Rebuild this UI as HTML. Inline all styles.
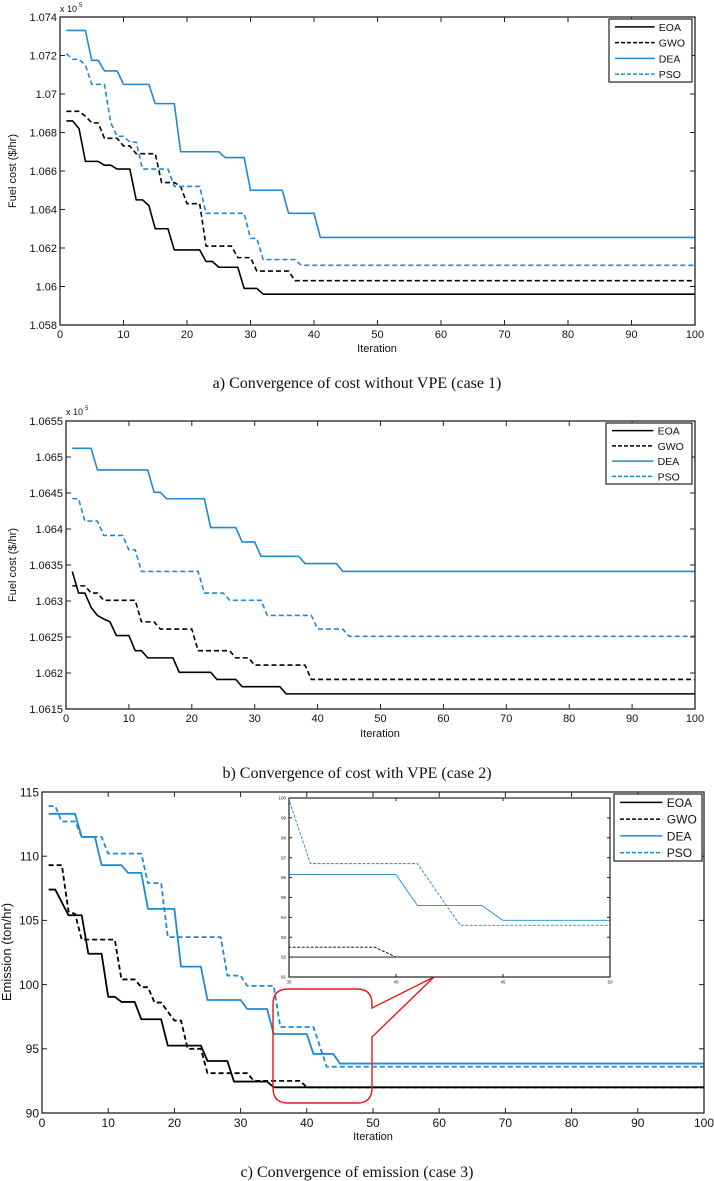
<!DOCTYPE html>
<html><head><meta charset="utf-8">
<style>
html,body{margin:0;padding:0;background:#fff;}
body{width:714px;height:1181px;overflow:hidden;position:relative;font-family:"Liberation Sans",Arial,sans-serif;}
svg{position:absolute;left:0;top:0;}
.cap{font-family:"Liberation Serif","Times New Roman",serif;font-size:16px;}
</style></head>
<body>
<svg id="fig" width="714" height="1181" viewBox="0 0 714 1181"></svg>
<script>
// ---------- Chart a data (x 1e5 $/hr) ----------
const aEOAIter=[1,3,4,7,9,12,14,15,18,23,25,29,32];
const aEOAVal=[1.0686,1.0682,1.0665,1.0663,1.0661,1.0645,1.0642,1.0630,1.0619,1.0613,1.0610,1.0599,1.0596];
const aGWOIter=[1,4,5,7,10,12,16,19,20,23,28,31,37];
const aGWOVal=[1.0691,1.06885,1.0685,1.0677,1.0673,1.0669,1.0654,1.0652,1.0643,1.0621,1.0615,1.0608,1.0603];
const aDEAIter=[1,5,7,10,15,19,26,30,36,41];
const aDEAVal=[1.0733,1.07175,1.0712,1.0705,1.0695,1.0670,1.0667,1.0650,1.0638,1.06255];
const aPSOIter=[1,2,4,5,8,9,11,13,18,23,30,32,38];
const aPSOVal=[1.0721,1.0718,1.0715,1.0705,1.0685,1.0678,1.0675,1.0661,1.0652,1.0638,1.0625,1.0614,1.0611];
const aYTicks=[1.058,1.06,1.062,1.064,1.066,1.068,1.07,1.072,1.074];
const aYLabels=["1.058","1.06","1.062","1.064","1.066","1.068","1.07","1.072","1.074"];
// ---------- Chart b data ----------
const bEOAIter=[1,2,4,5,6,7,8,11,13,18,24,28,35];
const bEOAVal=[1.06341,1.06311,1.06291,1.0628,1.06275,1.06271,1.06252,1.06231,1.06221,1.06201,1.06191,1.06181,1.06171];
const bGWOIter=[1,4,6,12,15,21,27,30,39];
const bGWOVal=[1.06321,1.06311,1.06301,1.06271,1.06261,1.06231,1.06221,1.06211,1.06191];
const bDEAIter=[1,5,14,16,23,28,31,38,44];
const bDEAVal=[1.06512,1.06482,1.06451,1.06442,1.06402,1.06382,1.06362,1.06352,1.06341];
const bPSOIter=[1,3,6,10,12,22,26,32,40,45];
const bPSOVal=[1.06442,1.06411,1.06391,1.06371,1.06341,1.06311,1.06301,1.0628,1.06261,1.06251];
const bYTicks=[1.0615,1.062,1.0625,1.063,1.0635,1.064,1.0645,1.065,1.0655];
const bYLabels=["1.0615","1.062","1.0625","1.063","1.0635","1.064","1.0645","1.065","1.0655"];
// ---------- Chart c data (ton/hr) ----------
const cEOAIter=[1,3,4,7,10,12,15,19,25,29,35];
const cEOAVal=[107.4,106.4,105.4,102.4,99.05,98.65,97.3,95.25,94.05,92.45,92.0];
const cGWOIter=[1,4,5,6,12,15,17,19,20,22,25,32,40];
const cGWOVal=[109.3,105.7,105.5,103.5,100.4,99.8,98.6,97.9,97.2,95.0,93.1,92.5,92.0];
const cDEAIter=[1,6,9,13,16,21,25,31,35,41,45];
const cDEAVal=[113.3,111.5,109.3,108.7,105.9,101.4,98.8,98.1,96.15,94.6,93.85];
const cPSOIter=[1,3,6,10,16,19,28,31,36,42,43];
const cPSOVal=[113.9,112.7,111.5,110.2,107.9,103.7,100.7,99.9,96.7,95.15,93.6];
const cYTicks=[90,95,100,105,110,115];
const cYLabels=["90","95","100","105","110","115"];
const insetYTicks=[91,92,93,94,95,96,97,98,99,100];
const insetXTicks=[35,40,45,50];
const xTicks=[0,10,20,30,40,50,60,70,80,90,100];
const seriesNames=["EOA","GWO","DEA","PSO"];

const NS="http://www.w3.org/2000/svg";
const svg=document.getElementById('fig');
const BLUE="#1f8ad4";
function mk(tag,attrs,parent){const e=document.createElementNS(NS,tag);for(const k in attrs)e.setAttribute(k,attrs[k]);(parent||svg).appendChild(e);return e;}
function expand(iters,vals){const pts=[];for(let i=1;i<=100;i++){let v=vals[0];for(let k=0;k<iters.length;k++){if(iters[k]<=i)v=vals[k];}pts.push([i,v]);}return pts;}
const styles=[{c:"#000",d:null},{c:"#000",d:"5,3"},{c:BLUE,d:null},{c:BLUE,d:"5,3"}];

function drawChart(id,box,xmin,xmax,ymin,ymax,yTicks,yLabels,series,opt){
  const g=mk('g',{});
  
  
  const sx=v=>box.l+(v-xmin)/(xmax-xmin)*(box.r-box.l);
  const sy=v=>box.b-(v-ymin)/(ymax-ymin)*(box.b-box.t);
  const clipId=id+'-clip';
  const cp=mk('clipPath',{id:clipId},g);mk('rect',{x:box.l,y:box.t,width:box.r-box.l,height:box.b-box.t},cp);
  if(opt.bg){const bg=mk('rect',{x:box.l,y:box.t,width:box.r-box.l,height:box.b-box.t,fill:'#fff'},g);}
  const sg=mk('g',{'clip-path':'url(#'+clipId+')'},g);
  series.forEach((s,i)=>{
    const pts=expand(s[0],s[1]).map(p=>sx(p[0]).toFixed(2)+','+sy(p[1]).toFixed(2)).join(' ');
    const pl=mk('polyline',{points:pts,fill:'none',stroke:styles[i].c,'stroke-width':opt.lw,'stroke-linejoin':'round'},sg);
    if(styles[i].d)pl.setAttribute('stroke-dasharray',opt.dash||styles[i].d);
    
    
  });
  const ax=mk('rect',{x:box.l,y:box.t,width:box.r-box.l,height:box.b-box.t,fill:'none',stroke:'#222','stroke-width':opt.axw||1.3},g);
  
  
  const tl=opt.tick||5;
  opt.xt.forEach(v=>{const x=sx(v);
    mk('line',{x1:x,y1:box.b,x2:x,y2:box.b-tl,stroke:'#222','stroke-width':1},g);
    mk('line',{x1:x,y1:box.t,x2:x,y2:box.t+tl,stroke:'#222','stroke-width':1},g);
    const t=mk('text',{x:x,y:box.b+opt.fs+2,'font-size':opt.fs,'text-anchor':'middle',fill:'#111'},g);t.textContent=v;
    
    
  });
  yTicks.forEach((v,i)=>{const y=sy(v);
    mk('line',{x1:box.l,y1:y,x2:box.l+tl,y2:y,stroke:'#222','stroke-width':1},g);
    mk('line',{x1:box.r,y1:y,x2:box.r-tl,y2:y,stroke:'#222','stroke-width':1},g);
    const t=mk('text',{x:box.l-3,y:y+opt.fs*0.36,'font-size':opt.fs,'text-anchor':'end',fill:'#111'},g);t.textContent=yLabels[i];
    
    
  });
  return {sx,sy};
}
function legend(x,y,w,h,fs,name){
  const g=mk('g',{});
  
  
  mk('rect',{x:x,y:y,width:w,height:h,fill:'#fff',stroke:'#222','stroke-width':1.2},g);
  const rh=h/4;
  seriesNames.forEach((n,i)=>{const cy=y+rh*(i+0.5);
    const l=mk('line',{x1:x+6,y1:cy,x2:x+w*0.55,y2:cy,stroke:styles[i].c,'stroke-width':1.5},g);
    if(styles[i].d)l.setAttribute('stroke-dasharray','4,2');
    const t=mk('text',{x:x+w*0.6,y:cy+fs*0.37,'font-size':fs,fill:'#111'},g);t.textContent=n;
    
    
  });
}
function txt(x,y,s,fs,name,extra){const t=mk('text',Object.assign({x:x,y:y,'font-size':fs,fill:'#111'},extra||{}));t.textContent=s;return t;}

// Chart a
drawChart('chart-a',{l:60,r:695,t:17,b:325},0,100,1.058,1.074,aYTicks,aYLabels,
  [[aEOAIter,aEOAVal],[aGWOIter,aGWOVal],[aDEAIter,aDEAVal],[aPSOIter,aPSOVal]],{lw:1.6,fs:11,xt:xTicks});
legend(609,19,83,63,10.5,'legend-a');
txt(60,12,'x 10',9,'y-scale-factor-a');txt(79,7,'5',6,'y-scale-exponent-a');
txt(16,171,'Fuel cost ($/hr)',11,'y-axis-title-a',{transform:'rotate(-90 16 171)','text-anchor':'middle'});
txt(377,352,'Iteration',11,'x-axis-title-a',{'text-anchor':'middle'});
txt(357,388,'a) Convergence of cost without VPE (case 1)',16,'caption-a',{'text-anchor':'middle','class':'cap'});

// Chart b
drawChart('chart-b',{l:66,r:695,t:421,b:709},0,100,1.0615,1.0655,bYTicks,bYLabels,
  [[bEOAIter,bEOAVal],[bGWOIter,bGWOVal],[bDEAIter,bDEAVal],[bPSOIter,bPSOVal]],{lw:1.6,fs:11,xt:xTicks});
legend(606,423,86,61,10.5,'legend-b');
txt(66,415,'x 10',9,'y-scale-factor-b');txt(85,410,'5',6,'y-scale-exponent-b');
txt(16,565,'Fuel cost ($/hr)',11,'y-axis-title-b',{transform:'rotate(-90 16 565)','text-anchor':'middle'});
txt(380,737,'Iteration',11,'x-axis-title-b',{'text-anchor':'middle'});
txt(357,778,'b) Convergence of cost with VPE (case 2)',16,'caption-b',{'text-anchor':'middle','class':'cap'});

// Chart c
const cs=[[cEOAIter,cEOAVal],[cGWOIter,cGWOVal],[cDEAIter,cDEAVal],[cPSOIter,cPSOVal]];
drawChart('chart-c',{l:42,r:704,t:792,b:1113},0,100,90,115,cYTicks,cYLabels,cs,{lw:1.8,fs:12,xt:xTicks});
txt(11,952,'Emission (ton/hr)',13,'y-axis-title-c',{transform:'rotate(-90 11 952)','text-anchor':'middle'});
txt(373,1140,'Iteration',11,'x-axis-title-c',{'text-anchor':'middle'});
txt(357,1177,'c) Convergence of emission (case 3)',16,'caption-c',{'text-anchor':'middle','class':'cap'});
// callout
const co=mk('path',{d:'M288,989 H357 Q372,989 372,1004 V1008 L434,977 L372,1037 V1088 Q372,1103 357,1103 H288 Q273,1103 273,1088 V1004 Q273,989 288,989 Z',fill:'none',stroke:'#e81818','stroke-width':1.4});


// inset
drawChart('inset-c',{l:289,r:610,t:798,b:977},35,50,91,100,insetYTicks,insetYTicks.map(String),cs,{lw:0.9,fs:4.5,xt:insetXTicks,bg:true,tick:3,axw:1.2,dash:'3,1.5'});
legend(614,794,88,67,12,'legend-c');
</script>
</body></html>
